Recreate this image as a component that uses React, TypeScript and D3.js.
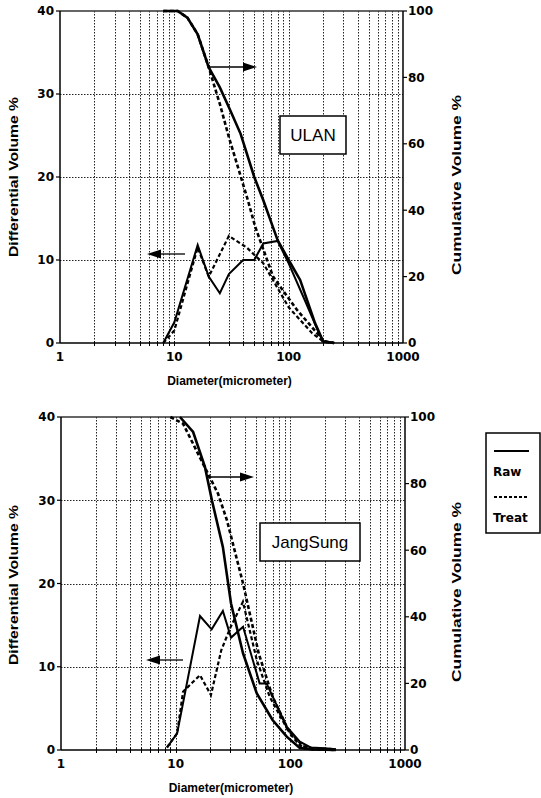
import React from "react";
import * as d3 from "d3";

type Pt = [number, number];

// ULAN (top)
const ulanRawDiff: Pt[] = [[8, 0], [10, 2.5], [16, 11.8], [20, 8], [25, 6], [30, 8.3], [40, 10], [50, 10], [60, 12], [80, 12.3], [100, 9.6], [140, 5], [180, 1.5], [200, 0.2], [250, 0]];
const ulanTreatDiff: Pt[] = [[8, 0], [10, 1.5], [16, 11.5], [20, 8], [30, 12.9], [43, 11.5], [60, 9.6], [100, 4.3], [160, 1.2], [200, 0.2], [250, 0]];
const ulanRawCum: Pt[] = [[8, 100], [10.7, 100], [13, 98], [16, 93], [20, 83], [25, 77], [30, 71], [38, 63], [50, 50], [60, 43], [80, 31], [100, 25], [126, 19], [170, 6], [200, 0.5], [250, 0]];
const ulanTreatCum: Pt[] = [[8, 100], [10.7, 100], [13, 98], [16, 93], [20, 83], [25, 72], [30, 62], [44, 43], [51, 35], [73, 20], [118, 10], [177, 3], [200, 0.5], [250, 0]];

// JangSung (bottom)
const jsRawDiff: Pt[] = [[8.4, 0.3], [10.3, 2], [16.3, 16.1], [20.6, 14.5], [25.8, 16.7], [30.4, 13.5], [38.7, 14.8], [54, 8], [62, 8], [93, 2.8], [121, 1], [150, 0.3], [200, 0.2], [250, 0.1]];
const jsTreatDiff: Pt[] = [[8.4, 0.3], [10.3, 2], [11.6, 7], [16.3, 9], [20.3, 6.6], [25, 12], [30, 14.7], [38.6, 17.8], [51, 10.8], [66, 6.4], [95, 2.4], [128, 0.5], [160, 0.2], [250, 0.1]];
const jsRawCum: Pt[] = [[10.9, 100], [14.2, 95.5], [18, 85], [20.7, 75], [25.8, 61], [30.4, 44], [38.7, 29], [51, 17], [70, 9], [93, 4], [121, 0.6], [160, 0.2], [250, 0]];
const jsTreatCum: Pt[] = [[9, 100], [11.6, 98], [17.3, 86], [23.4, 77], [28, 69], [38.7, 50], [53, 29], [70, 16], [99, 5], [128, 0.6], [160, 0.2], [250, 0]];

const xTicks = [1, 10, 100, 1000];
const leftTicks = [0, 10, 20, 30, 40];
const rightTicks = [0, 20, 40, 60, 80, 100];
const legendLabels = ["Raw", "Treat"];

const FONT = "'Liberation Sans', Arial, sans-serif";
const WIDE = "'DejaVu Sans', sans-serif";

const crisp = (v: number) => Math.round(v) + 0.5;

interface PanelProps {
  x0: number; x1: number; y0: number; y1: number;
  rawDiff: Pt[]; treatDiff: Pt[]; rawCum: Pt[]; treatCum: Pt[];
  label: string; box: [number, number, number, number];
  rArrow: [number, number, number]; lArrow: [number, number, number];
  leftMid: number; rightMid: number;
}

function Panel(p: PanelProps) {
  const x = d3.scaleLog().domain([1, 1000]).range([p.x0, p.x1]);
  const yl = d3.scaleLinear().domain([0, 40]).range([p.y1, p.y0]);
  const yr = d3.scaleLinear().domain([0, 100]).range([p.y1, p.y0]);
  const ld = d3.line<Pt>().x(d => x(d[0])).y(d => yl(d[1]));
  const lc = d3.line<Pt>().x(d => x(d[0])).y(d => yr(d[1]));
  const minors: number[] = [];
  for (let e = 0; e < 3; e++) for (let k = 2; k <= 10; k++) minors.push(k * Math.pow(10, e));
  const grid = minors.filter(v => v < 1000);
  return (
    <g>
      {grid.map((v, i) => (
        <line key={"vg" + i} x1={crisp(x(v))} x2={crisp(x(v))} y1={p.y0} y2={p.y1} stroke="#222" strokeWidth={1} strokeDasharray="1.5 1.5" />
      ))}
      {[10, 20, 30].map(v => (
        <line key={"hg" + v} x1={p.x0} x2={p.x1} y1={crisp(yl(v))} y2={crisp(yl(v))} stroke="#222" strokeWidth={1} strokeDasharray="1.5 1.5" />
      ))}
      {grid.map((v, i) => (
        <line key={"xt" + i} x1={crisp(x(v))} x2={crisp(x(v))} y1={p.y1 - 2} y2={p.y1 + 3} stroke="#000" strokeWidth={1} />
      ))}
      <line x1={p.x0} x2={p.x1} y1={p.y0} y2={p.y0} stroke="#333" strokeWidth={1.5} />
      <line x1={p.x0} x2={p.x1} y1={p.y1} y2={p.y1} stroke="#000" strokeWidth={1.5} />
      <line x1={p.x0} x2={p.x0} y1={p.y0} y2={p.y1} stroke="#000" strokeWidth={1.5} />
      <line x1={p.x1} x2={p.x1} y1={p.y0} y2={p.y1} stroke="#000" strokeWidth={1.5} />
      {leftTicks.map(v => (
        <g key={"lt" + v}>
          <line x1={p.x0 - 4} x2={p.x0} y1={yl(v)} y2={yl(v)} stroke="#000" strokeWidth={1.2} />
          <text x={p.x0 - 6} y={yl(v)} dy="0.36em" textAnchor="end" fontSize={12} fontWeight="bold" fontFamily={WIDE}>{v}</text>
        </g>
      ))}
      {rightTicks.map(v => (
        <g key={"rt" + v}>
          <line x1={p.x1} x2={p.x1 + 4} y1={yr(v)} y2={yr(v)} stroke="#000" strokeWidth={1.2} />
          <text x={p.x1 + 5} y={yr(v)} dy="0.36em" textAnchor="start" fontSize={12} fontWeight="bold" fontFamily={WIDE}>{v}</text>
        </g>
      ))}
      {xTicks.map(v => (
        <text key={"xl" + v} x={x(v)} y={p.y1 + 18} textAnchor="middle" fontSize={12} fontWeight="bold" fontFamily={WIDE}>{v}</text>
      ))}
      <text x={(p.x0 + p.x1) / 2 - 2} y={p.y1 + 42} textAnchor="middle" fontSize={12} fontWeight="bold" fontFamily={FONT}>Diameter(micrometer)</text>
      <text transform={`translate(18,${p.leftMid}) rotate(-90)`} textAnchor="middle" fontSize={12.5} fontWeight="bold" fontFamily={FONT}
        textLength={160} lengthAdjust="spacingAndGlyphs">Differential Volume %</text>
      <text transform={`translate(461,${p.rightMid}) rotate(-90)`} textAnchor="middle" fontSize={13} fontWeight="bold" fontFamily={FONT}
        textLength={180} lengthAdjust="spacingAndGlyphs">Cumulative Volume %</text>

      <path d={lc(p.rawCum) || ""} fill="none" stroke="#000" strokeWidth={2.6} />
      <path d={lc(p.treatCum) || ""} fill="none" stroke="#000" strokeWidth={2.6} strokeDasharray="4 2.5" />
      <path d={ld(p.rawDiff) || ""} fill="none" stroke="#000" strokeWidth={2} />
      <path d={ld(p.treatDiff) || ""} fill="none" stroke="#000" strokeWidth={2.2} strokeDasharray="4 2.5" />

      <line x1={p.rArrow[0]} x2={p.rArrow[1] - 12} y1={p.rArrow[2]} y2={p.rArrow[2]} stroke="#000" strokeWidth={1.3} />
      <path d={`M${p.rArrow[1]},${p.rArrow[2]} L${p.rArrow[1] - 14},${p.rArrow[2] - 4.5} L${p.rArrow[1] - 14},${p.rArrow[2] + 4.5} Z`} fill="#000" />
      <line x1={p.lArrow[0] + 12} x2={p.lArrow[1]} y1={p.lArrow[2]} y2={p.lArrow[2]} stroke="#000" strokeWidth={1.3} />
      <path d={`M${p.lArrow[0]},${p.lArrow[2]} L${p.lArrow[0] + 14},${p.lArrow[2] - 4.5} L${p.lArrow[0] + 14},${p.lArrow[2] + 4.5} Z`} fill="#000" />

      <rect x={p.box[0]} y={p.box[1]} width={p.box[2]} height={p.box[3]} fill="#fff" stroke="#000" strokeWidth={1.5} />
      <text x={p.box[0] + p.box[2] / 2} y={p.box[1] + p.box[3] / 2} dy="0.36em" textAnchor="middle" fontSize={17} fontFamily={FONT}>{p.label}</text>
    </g>
  );
}

export default function App() {
  return (
    <svg width={541} height={798} style={{ position: "absolute", left: 0, top: 0, background: "#fff" }}>
      <rect width={541} height={798} fill="#fff" />
      <Panel x0={60} x1={403} y0={11} y1={343}
        rawDiff={ulanRawDiff} treatDiff={ulanTreatDiff} rawCum={ulanRawCum} treatCum={ulanTreatCum}
        label="ULAN" box={[280, 116, 66, 38]} rArrow={[210, 257, 67]} lArrow={[147, 185, 254]}
        leftMid={177} rightMid={185} />
      <Panel x0={61} x1={405} y0={417} y1={750}
        rawDiff={jsRawDiff} treatDiff={jsTreatDiff} rawCum={jsRawCum} treatCum={jsTreatCum}
        label="JangSung" box={[260, 523, 100, 38]} rArrow={[208, 254, 477]} lArrow={[146, 183, 660]}
        leftMid={585} rightMid={592} />
      <g>
        <rect x={486} y={433} width={54} height={100} fill="#fff" stroke="#000" strokeWidth={1.5} />
        <line x1={494} x2={529} y1={451} y2={451} stroke="#000" strokeWidth={2} />
        <text x={493} y={476} fontSize={12} fontWeight="bold" fontFamily={WIDE}>{legendLabels[0]}</text>
        <line x1={494} x2={529} y1={497} y2={497} stroke="#000" strokeWidth={2} strokeDasharray="3 2" />
        <text x={493} y={522} fontSize={12} fontWeight="bold" fontFamily={WIDE}>{legendLabels[1]}</text>
      </g>
    </svg>
  );
}
